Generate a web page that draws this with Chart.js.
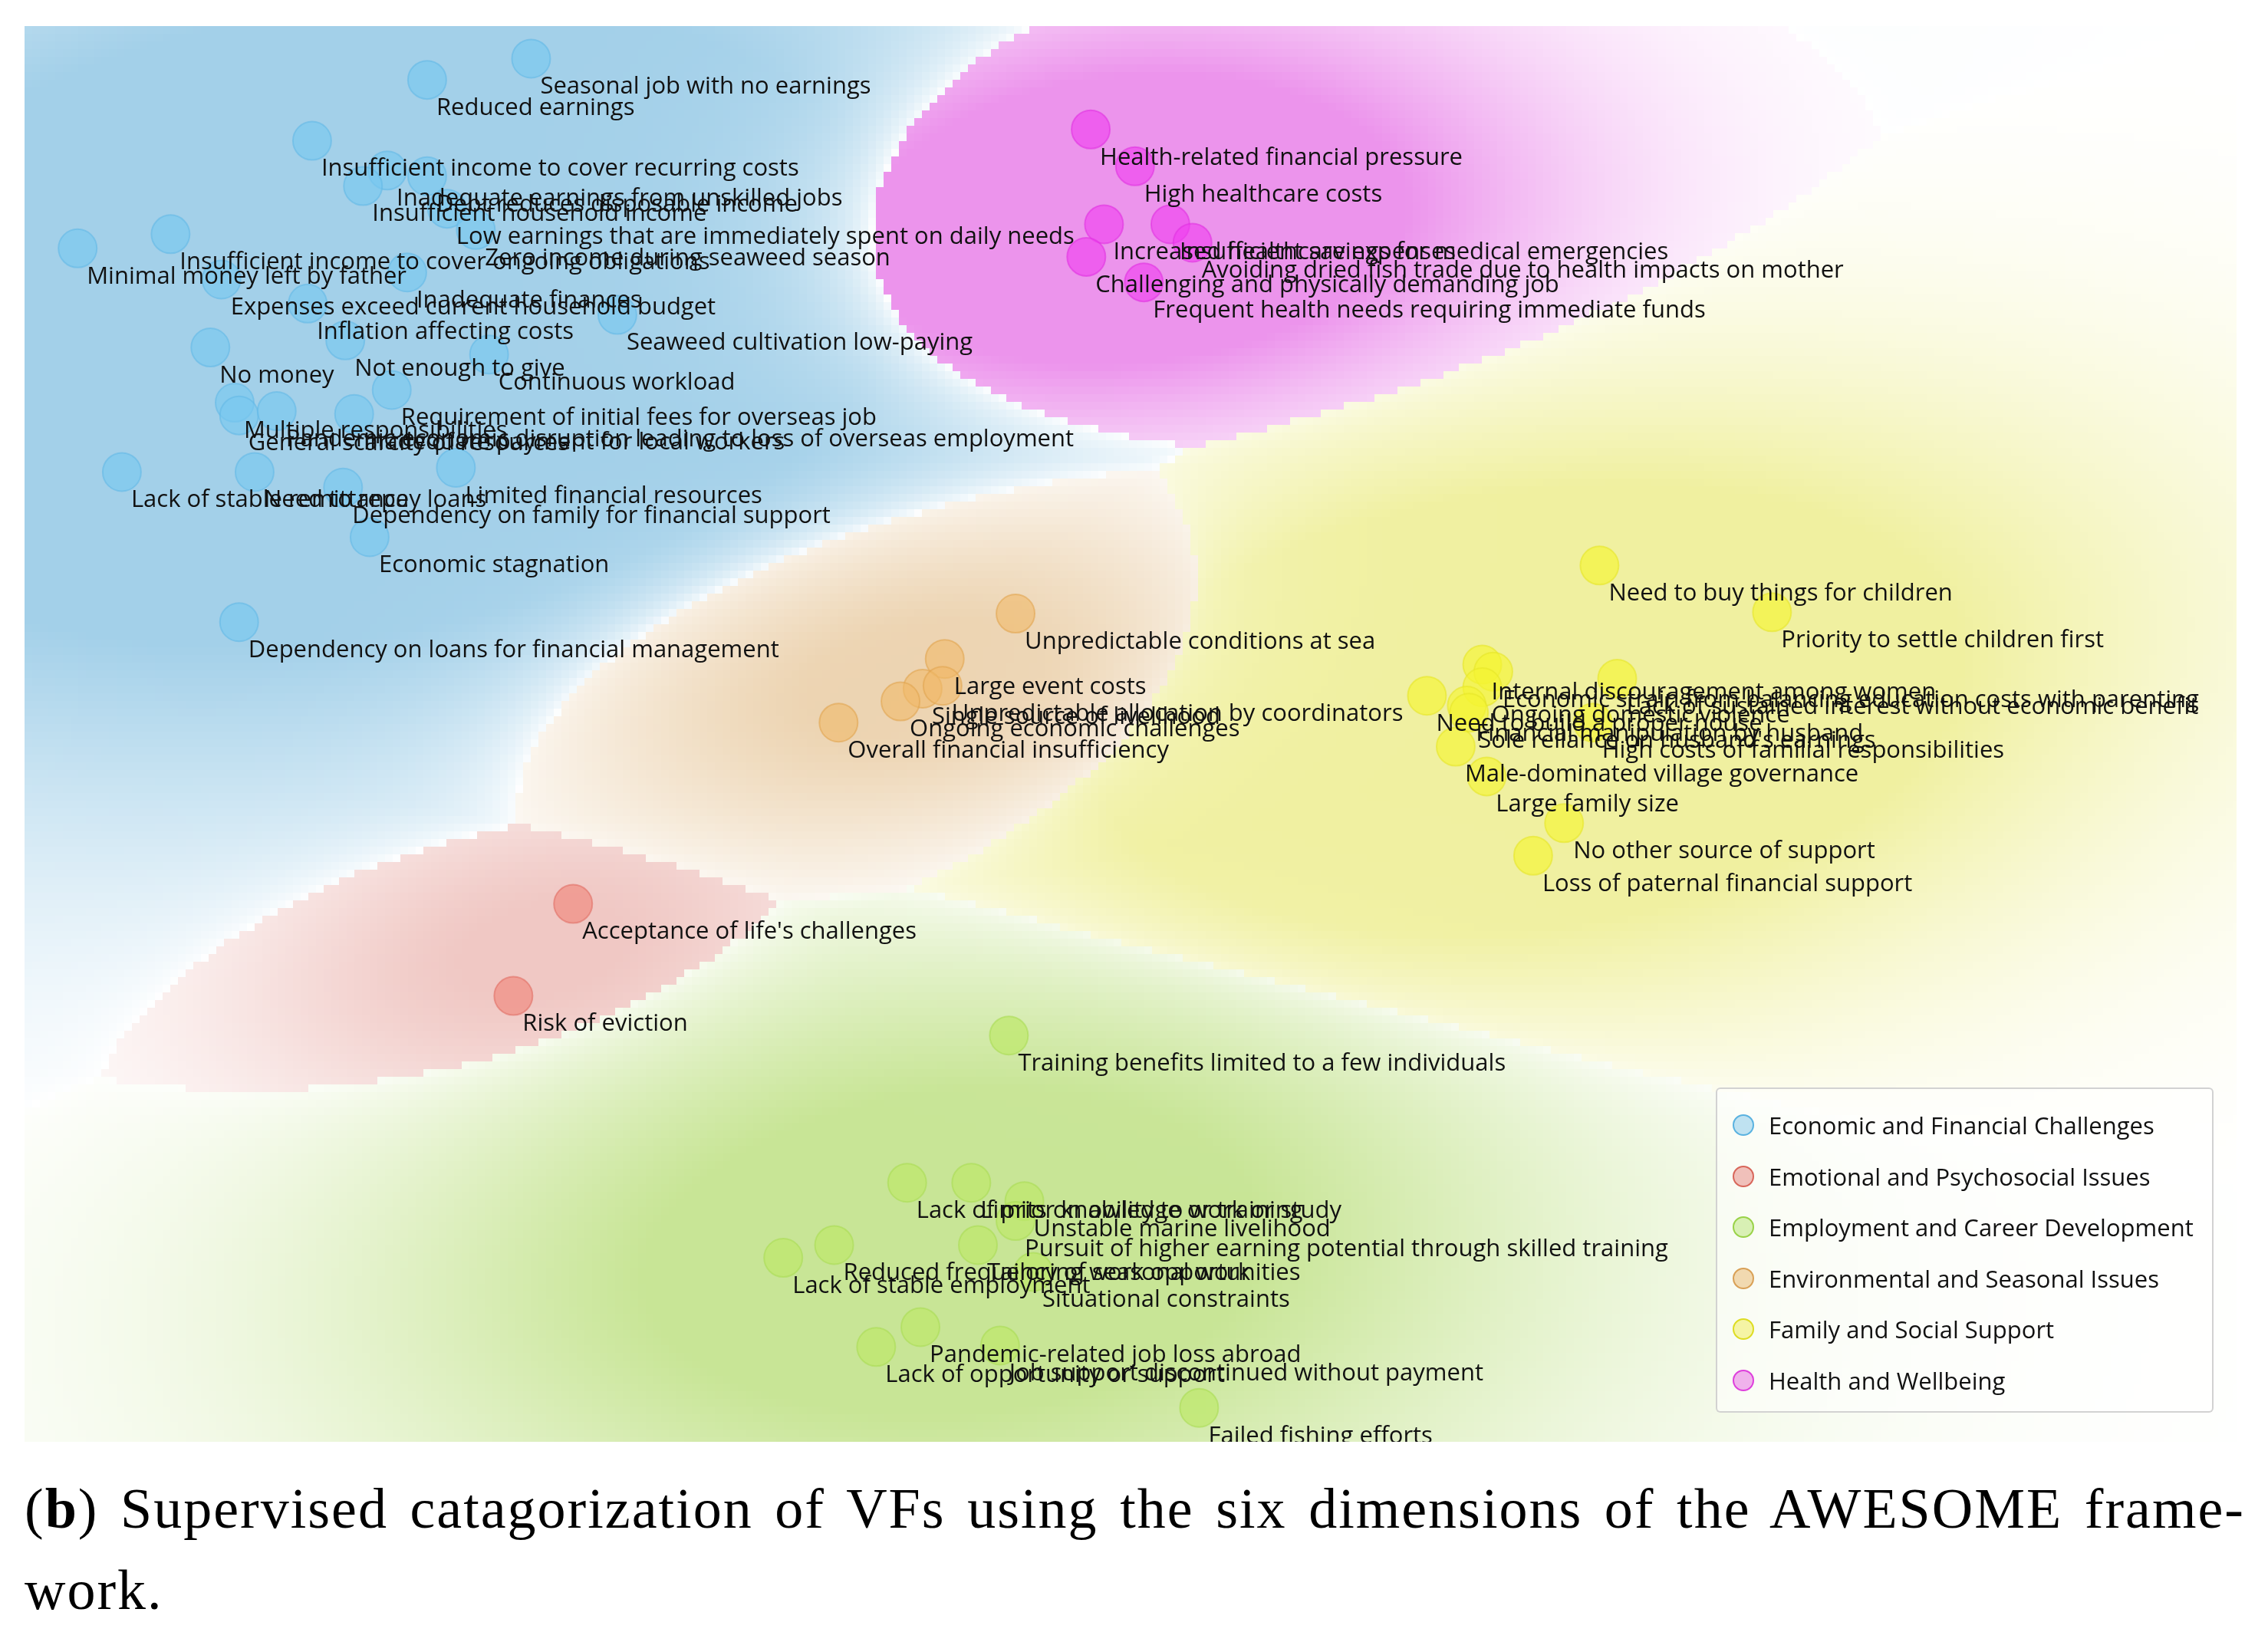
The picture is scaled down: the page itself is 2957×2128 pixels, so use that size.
<!DOCTYPE html>
<html>
<head>
<meta charset="utf-8">
<script src="https://cdn.jsdelivr.net/npm/chart.js@4.4.1/dist/chart.umd.min.js"></script>
<style>
  html, body { margin: 0; padding: 0; background: #fff; }
  body { width: 2957px; height: 2128px; position: relative; overflow: hidden; }
  #wrap { position: absolute; left: 32px; top: 34px; width: 2884px; height: 1846px; }
  #legend { position: absolute; left: 2237px; top: 1418px; width: 649px; height: 424px; box-sizing: border-box;
    border: 2px solid rgba(205,205,205,0.9); border-radius: 6px; background: rgba(255,255,255,0.55);
    font-family: "Open Sans", sans-serif; font-size: 31px; color: #111; }
  .item { position: absolute; left: 20px; height: 40px; display: flex; align-items: center; white-space: nowrap; }
  .dot { width: 24px; height: 24px; border-radius: 50%; border: 2.5px solid; margin-right: 19px; }
  #caption { position: absolute; left: 32px; top: 1914px; width: 2895px; font-family: "Liberation Serif", serif;
    font-size: 74px; line-height: 106px; letter-spacing: 2px; color: #000; }
  #caption .l1 { text-align: justify; text-align-last: justify; }
</style>
</head>
<body>
<div id="wrap"><canvas id="myChart"></canvas></div>
<div id="legend"></div>
<div id="caption">
  <div class="l1">(<b>b</b>) Supervised catagorization of VFs using the six dimensions of the AWESOME frame-</div>
  <div>work.</div>
</div>
<script>
const categories = [
  "Economic and Financial Challenges",
  "Emotional and Psychosocial Issues",
  "Employment and Career Development",
  "Environmental and Seasonal Issues",
  "Family and Social Support",
  "Health and Wellbeing"
];

// Economic and Financial Challenges
const econLabels = [
  "Seasonal job with no earnings", "Reduced earnings", "Insufficient income to cover recurring costs",
  "Inadequate earnings from unskilled jobs", "Debt reduces disposable income", "Insufficient household income",
  "Low earnings that are immediately spent on daily needs", "Zero income during seaweed season",
  "Insufficient income to cover ongoing obligations", "Minimal money left by father",
  "Expenses exceed current household budget", "Inadequate finances", "Inflation affecting costs",
  "Seaweed cultivation low-paying", "Not enough to give", "No money", "Continuous workload",
  "Requirement of initial fees for overseas job", "Multiple responsibilities", "General scarcity of resources",
  "Pandemic economic disruption leading to loss of overseas employment", "Inadequate payment for local workers",
  "Lack of stable remittance", "Need to repay loans", "Limited financial resources",
  "Dependency on family for financial support", "Economic stagnation", "Dependency on loans for financial management"
];
const econX = [22.9, 18.2, 13.0, 16.4, 18.2, 15.3, 19.1, 20.4, 6.6, 2.4, 8.9, 17.3, 12.8, 26.8, 14.5, 8.4, 21.0,
  16.6, 9.5, 9.7, 11.4, 14.9, 4.4, 10.4, 19.5, 14.4, 15.6, 9.7];
const econY = [97.7, 96.2, 91.9, 89.8, 89.4, 88.7, 87.1, 85.6, 85.3, 84.3, 82.1, 82.6, 80.4, 79.6, 77.8, 77.3, 76.8,
  74.3, 73.4, 72.5, 72.8, 72.6, 68.5, 68.5, 68.8, 67.4, 63.9, 57.9];

// Emotional and Psychosocial Issues
const emoLabels = ["Acceptance of life's challenges", "Risk of eviction"];
const emoX = [24.8, 22.1];
const emoY = [38.0, 31.5];

// Employment and Career Development
const empLabels = [
  "Training benefits limited to a few individuals", "Lack of prior knowledge or training",
  "Limits on ability to work or study", "Unstable marine livelihood",
  "Pursuit of higher earning potential through skilled training", "Reduced frequency of seasonal work",
  "Tailoring work opportunities", "Lack of stable employment", "Situational constraints",
  "Pandemic-related job loss abroad", "Lack of opportunity or support", "Job support discontinued without payment",
  "Failed fishing efforts"
];
const empX = [44.5, 39.9, 42.8, 45.2, 44.8, 36.6, 43.1, 34.3, 45.6, 40.5, 38.5, 44.1, 53.1];
const empY = [28.7, 18.3, 18.3, 17.0, 15.6, 13.9, 13.9, 13.0, 12.0, 8.1, 6.7, 6.8, 2.4];

// Environmental and Seasonal Issues
const envLabels = [
  "Unpredictable conditions at sea", "Large event costs", "Single source of livelihood",
  "Unpredictable allocation by coordinators", "Ongoing economic challenges", "Overall financial insufficiency"
];
const envX = [44.8, 41.6, 40.6, 41.5, 39.6, 36.8];
const envY = [58.5, 55.3, 53.2, 53.4, 52.3, 50.8];

// Family and Social Support
const famLabels = [
  "Need to buy things for children", "Priority to settle children first", "Internal discouragement among women",
  "Economic strain from balancing education costs with parenting", "Lack of sustained interest without economic benefit",
  "Ongoing domestic violence", "Need to build a proper house", "Financial manipulation by husband",
  "Sole reliance on husband's earnings", "High costs of familial responsibilities", "Male-dominated village governance",
  "Large family size", "No other source of support", "Loss of paternal financial support"
];
const famX = [71.2, 79.0, 65.9, 66.4, 72.0, 65.9, 63.4, 65.2, 65.3, 70.9, 64.7, 66.1, 69.6, 68.2];
const famY = [61.9, 58.6, 54.9, 54.4, 53.9, 53.3, 52.7, 52.0, 51.5, 50.8, 49.1, 47.0, 43.7, 41.4];

// Health and Wellbeing
const heaLabels = [
  "Health-related financial pressure", "High healthcare costs", "Increased healthcare expenses",
  "Insufficient savings for medical emergencies", "Avoiding dried fish trade due to health impacts on mother",
  "Challenging and physically demanding job", "Frequent health needs requiring immediate funds"
];
const heaX = [48.2, 50.2, 48.8, 51.8, 52.8, 48.0, 50.6];
const heaY = [92.7, 90.1, 86.0, 86.0, 84.7, 83.7, 81.9];

const groups = [
  { labels: econLabels, xs: econX, ys: econY },
  { labels: emoLabels, xs: emoX, ys: emoY },
  { labels: empLabels, xs: empX, ys: empY },
  { labels: envLabels, xs: envX, ys: envY },
  { labels: famLabels, xs: famX, ys: famY },
  { labels: heaLabels, xs: heaX, ys: heaY }
];

// styles
const pointFill = ["rgba(120,200,240,0.65)", "rgba(240,135,125,0.65)", "rgba(190,232,105,0.7)",
  "rgba(240,185,105,0.6)", "rgba(245,245,50,0.65)", "rgba(240,60,240,0.6)"];
const pointLine = ["rgba(100,185,230,0.6)", "rgba(225,110,100,0.6)", "rgba(170,220,85,0.6)",
  "rgba(225,165,80,0.6)", "rgba(230,230,40,0.6)", "rgba(225,50,225,0.6)"];
const regionRGB = [[163,208,233], [240,200,196], [200,229,150], [236,211,176], [240,240,160], [236,148,236]];
const legendFill = ["#bfe2f1", "#f0c0ba", "#d8f0b4", "#f1d9b0", "#f5f4a4", "#f0b2ec"];
const legendLine = ["#5ab2e0", "#d8665a", "#99d248", "#d9a056", "#dddc22", "#de3fdc"];

// background shading: kernel density per class
const AX = 1.35;                               // wider kernel along x
const RHO = 0.18;                              // kernel tilt
const bw = [13, 5.5, 9.5, 6.3, 9.5, 6.5];      // bandwidth per class
const wt = [1, 0.16, 1, 1, 1, 1];              // weight when picking the class
const gain = [1.6, 1.0, 1.3, 1.1, 1.7, 1.6];   // shade strength
const edge = [0, 1, 0.3, 0.55, 0.6, 1];        // shade kept at a class border

function dens(gi, vx, vy) {
  const g = groups[gi], h = bw[gi];
  let s = 0;
  for (let i = 0; i < g.xs.length; i++) {
    const dx = (vx - g.xs[i]) / (AX * h), dy = (vy - g.ys[i]) / h;
    const q = (dx * dx - 2 * RHO * dx * dy + dy * dy) / (1 - RHO * RHO);
    s += Math.exp(-0.5 * q);
  }
  return s / g.xs.length;
}
const peak = groups.map((g, gi) => Math.max(...g.xs.map((v, i) => dens(gi, v, g.ys[i]))));

const regionPlugin = {
  id: "regions",
  beforeDatasetsDraw(chart) {
    const { ctx, chartArea: a, scales: { x, y } } = chart;
    const cell = 10;
    ctx.save();
    for (let py = a.top; py < a.bottom; py += cell) {
      const vy = y.getValueForPixel(py + cell / 2);
      for (let px = a.left; px < a.right; px += cell) {
        const vx = x.getValueForPixel(px + cell / 2);
        let best = 0, s1 = -1, s2 = 0, bestN = 0;
        for (let gi = 0; gi < groups.length; gi++) {
          const nv = dens(gi, vx, vy) / peak[gi];
          const sc = nv * wt[gi];
          if (sc > s1) { s2 = Math.max(s1, 0); s1 = sc; best = gi; bestN = nv; }
          else if (sc > s2) s2 = sc;
        }
        const m = s1 > 0 ? Math.pow((s1 - s2) / s1, 0.6) : 0;
        const f = edge[best] + (1 - edge[best]) * m;
        const t = Math.min(1, gain[best] * Math.sqrt(bestN)) * f;
        const c = regionRGB[best];
        const r = Math.round(255 + (c[0] - 255) * t);
        const gg = Math.round(255 + (c[1] - 255) * t);
        const b = Math.round(255 + (c[2] - 255) * t);
        ctx.fillStyle = "rgb(" + r + "," + gg + "," + b + ")";
        ctx.fillRect(px, py, cell, cell);
      }
    }
    ctx.restore();
  }
};

const labelPlugin = {
  id: "pointLabels",
  afterDatasetsDraw(chart) {
    const ctx = chart.ctx;
    ctx.save();
    ctx.font = "31px 'Open Sans'";
    ctx.fillStyle = "#111";
    ctx.textBaseline = "middle";
    chart.data.datasets.forEach((ds, i) => {
      chart.getDatasetMeta(i).data.forEach((pt, j) => {
        ctx.fillText(groups[i].labels[j], pt.x + 12, pt.y + 37);
      });
    });
    ctx.restore();
  }
};

const ctx1 = document.getElementById("myChart");
new Chart(ctx1, {
  type: "scatter",
  data: {
    datasets: groups.map((g, i) => ({
      label: categories[i],
      data: g.xs.map((v, j) => ({ x: v, y: g.ys[j] })),
      backgroundColor: pointFill[i],
      borderColor: pointLine[i],
      borderWidth: 2,
      pointRadius: 25,
    })),
  },
  options: {
    responsive: true,
    maintainAspectRatio: false,
    animation: false,
    devicePixelRatio: 1,
    layout: { padding: 0, autoPadding: false },
    scales: {
      x: { type: "linear", min: 0, max: 100, display: false },
      y: { type: "linear", min: 0, max: 100, display: false },
    },
    plugins: {
      legend: { display: false },
      tooltip: { enabled: false },
    },
  },
  plugins: [regionPlugin, labelPlugin],
});

// legend built from the categories
const legend = document.getElementById("legend");
categories.forEach((name, i) => {
  const item = document.createElement("div");
  item.className = "item";
  item.style.top = (27 + i * 66.6) + "px";
  item.innerHTML = '<span class="dot" style="background:' + legendFill[i] + ';border-color:' + legendLine[i] + '"></span>' + name;
  legend.appendChild(item);
});
</script>
</body>
</html>
